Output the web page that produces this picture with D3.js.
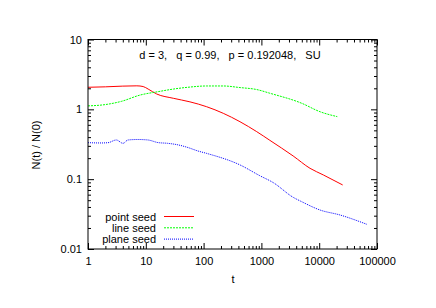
<!DOCTYPE html>
<html>
<head>
<meta charset="utf-8">
<script src="https://cdnjs.cloudflare.com/ajax/libs/d3/7.8.5/d3.min.js"></script>
<style>
body { margin: 0; background: #fff; }
svg text { font-family: "Liberation Sans", Arial, sans-serif; font-size: 11px; fill: #000; }
</style>
</head>
<body>
<svg id="chart" width="436" height="308"></svg>
<script>
// values
var tPoint = [1, 2, 4, 7, 9, 11, 15.4, 29.9, 58, 113, 219, 426, 830, 1400, 3540, 6940, 11780, 25480];
var nPoint = [2.07, 2.1, 2.15, 2.17, 2.12, 1.95, 1.66, 1.44, 1.28, 1.09, 0.877, 0.665, 0.479, 0.36, 0.215, 0.143, 0.115, 0.0826];

var tLine = [1, 2, 3.77, 7.95, 16.3, 29.9, 53.5, 113, 219, 426, 830, 1400, 5000, 10300, 20560];
var nLine = [1.12, 1.17, 1.3, 1.6, 1.79, 1.95, 2.07, 2.16, 2.16, 2.05, 1.92, 1.7, 1.22, 0.925, 0.786];

var tPlane = [1, 1.7, 2.22, 3.09, 4.03, 4.92, 7.3, 10.9, 16.3, 24, 36, 53.5, 80, 113, 426, 941, 1607, 3540, 5000, 10300, 22900, 66400];
var nPlane = [0.333, 0.33, 0.333, 0.364, 0.326, 0.364, 0.37, 0.364, 0.334, 0.326, 0.31, 0.284, 0.253, 0.234, 0.16, 0.112, 0.0891, 0.055, 0.0475, 0.0362, 0.0307, 0.0226];

var xTicks = [1, 10, 100, 1000, 10000, 100000];
var yTicks = [0.01, 0.1, 1, 10];
var seriesNames = ["point seed", "line seed", "plane seed"];
var seriesColors = ["#ff0000", "#00ff00", "#0000ff"];
var seriesDash = [null, "2,1", "1,1"];
var title = "d = 3,   q = 0.99,   p = 0.192048,   SU";

var margin = {top: 39.5, left: 88, right: 59, bottom: 59};
var width = 436, height = 308;
var w = width - margin.left - margin.right;
var h = height - margin.top - margin.bottom;

var svg = d3.select("#chart");
var g = svg.append("g").attr("transform", "translate(" + margin.left + "," + margin.top + ")");

var x = d3.scaleLog().domain([1, 100000]).range([0, w]);
var y = d3.scaleLog().domain([0.01, 10]).range([h, 0]);

// minor ticks 2..9 of each decade
function minors(lo, hi) {
    var out = [];
    for (var d = lo; d < hi; d *= 10) {
        for (var k = 2; k < 10; k++) out.push(d * k);
    }
    return out;
}
var xMinor = minors(1, 100000);
var yMinor = minors(0.01, 10);

function styleAxis(sel) {
    sel.select(".domain").remove();
    sel.selectAll("line").attr("stroke", "#000");
}

// bottom
g.append("g").attr("transform", "translate(0," + h + ")")
    .call(d3.axisBottom(x).tickValues(xTicks).tickSize(-6).tickPadding(8).tickFormat(d3.format("d")))
    .call(styleAxis).selectAll("text").style("font-size", "11px").attr("font-family", null);
g.append("g").attr("transform", "translate(0," + h + ")")
    .call(d3.axisBottom(x).tickValues(xMinor).tickSize(-3).tickFormat(""))
    .call(styleAxis);
// top
g.append("g")
    .call(d3.axisTop(x).tickValues(xTicks).tickSize(-6).tickFormat(""))
    .call(styleAxis);
g.append("g")
    .call(d3.axisTop(x).tickValues(xMinor).tickSize(-3).tickFormat(""))
    .call(styleAxis);
// left
g.append("g")
    .call(d3.axisLeft(y).tickValues(yTicks).tickSize(-6).tickPadding(6).tickFormat(d => d3.format("")(d)))
    .call(styleAxis).selectAll("text").style("font-size", "11px").attr("font-family", null);
g.append("g")
    .call(d3.axisLeft(y).tickValues(yMinor).tickSize(-3).tickFormat(""))
    .call(styleAxis);
// right
g.append("g").attr("transform", "translate(" + w + ",0)")
    .call(d3.axisRight(y).tickValues(yTicks).tickSize(-6).tickFormat(""))
    .call(styleAxis);
g.append("g").attr("transform", "translate(" + w + ",0)")
    .call(d3.axisRight(y).tickValues(yMinor).tickSize(-3).tickFormat(""))
    .call(styleAxis);

// curves
var line = d3.line().x(d => x(d[0])).y(d => y(d[1])).curve(d3.curveMonotoneX);
var series = [
    d3.zip(tPoint, nPoint),
    d3.zip(tLine, nLine),
    d3.zip(tPlane, nPlane)
];
series.forEach(function(s, i) {
    g.append("path")
        .datum(s)
        .attr("d", line)
        .attr("fill", "none")
        .attr("stroke", seriesColors[i])
        .attr("stroke-width", 1)
        .attr("stroke-dasharray", seriesDash[i]);
});

// frame
g.append("rect").attr("width", w).attr("height", h)
    .attr("fill", "none").attr("stroke", "#000").attr("stroke-width", 1);

// title
g.append("text").attr("x", 142).attr("y", 19).attr("text-anchor", "middle")
    .attr("xml:space", "preserve").style("white-space", "pre").text(title);

// legend
var leg = g.selectAll("g.legend").data(seriesNames).enter().append("g")
    .attr("class", "legend")
    .attr("transform", (d, i) => "translate(0," + (177 + i * 11.3) + ")");
leg.append("text").attr("x", 68).attr("y", 4).attr("text-anchor", "end").text(d => d);
leg.append("line").attr("x1", 76).attr("x2", 106).attr("y1", 0).attr("y2", 0)
    .attr("stroke", (d, i) => seriesColors[i])
    .attr("stroke-dasharray", (d, i) => seriesDash[i]);

// axis titles
svg.append("text").attr("x", 233).attr("y", 283).attr("text-anchor", "middle").text("t");
svg.append("text").attr("transform", "translate(40,145) rotate(-90)")
    .attr("text-anchor", "middle").text("N(t) / N(0)");
</script>
</body>
</html>
